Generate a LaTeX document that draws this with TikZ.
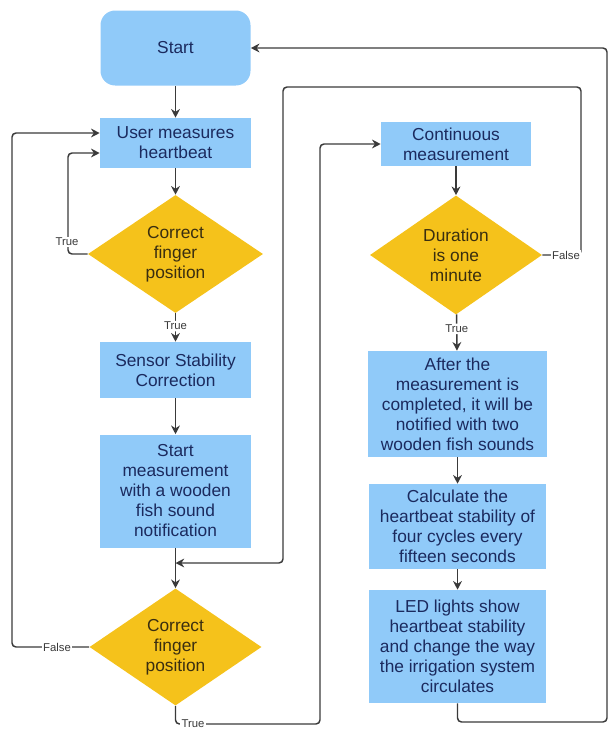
\documentclass[tikz,border=0pt]{standalone}
\usepackage{fontspec}
\setmainfont{Liberation Sans}
\usetikzlibrary{shapes.geometric,arrows.meta}
\definecolor{boxblue}{HTML}{90CAF9}
\definecolor{gold}{HTML}{F5C21B}
\definecolor{navy}{HTML}{1B2A5E}
\definecolor{dtext}{HTML}{3A2E10}
\definecolor{ln}{HTML}{3A3A3A}
\begin{document}
\begin{tikzpicture}[x=0.75pt,y=-0.75pt,
 box/.style={draw=none,fill=boxblue,text=navy,align=center,font=\fontsize{13}{15}\selectfont,inner sep=0pt},
 dia/.style={diamond,draw=none,fill=gold,text=dtext,align=center,font=\fontsize{13}{15}\selectfont,inner sep=0pt},
 conn/.style={draw=ln,line width=1.1pt,rounded corners=3pt},
 arr/.style={conn,-{Stealth[length=6.5pt,width=6.5pt]}},
 lab/.style={fill=white,text=ln,font=\fontsize{8.5}{10}\selectfont,inner sep=1pt}]
\useasboundingbox (0,0) rectangle (610,729);
% left column
\node[box,rounded corners=11pt,minimum width=150*0.75pt,minimum height=75*0.75pt] (start) at (175.5,48) {Start};
\node[box,minimum width=151*0.75pt,minimum height=50*0.75pt] (user) at (175.5,143) {User measures\\heartbeat};
\node[dia,minimum width=175*0.75pt,minimum height=118*0.75pt] (d1) at (175.5,254) {Correct\\finger\\position};
\node[box,minimum width=151*0.75pt,minimum height=56*0.75pt] (sensor) at (175.5,370) {Sensor Stability\\Correction};
\node[box,minimum width=151*0.75pt,minimum height=113*0.75pt] (meas) at (175.5,491) {Start\\measurement\\with a wooden\\fish sound\\notification};
\node[dia,minimum width=172*0.75pt,minimum height=117*0.75pt] (d2) at (175.5,647) {Correct\\finger\\position};
% right column
\node[box,minimum width=150*0.75pt,minimum height=44*0.75pt] (cont) at (456,144) {Continuous\\measurement};
\node[dia,minimum width=172*0.75pt,minimum height=119*0.75pt] (d3) at (456,255) {Duration\\is one\\minute};
\node[box,minimum width=179*0.75pt,minimum height=106*0.75pt] (after) at (457.5,404) {After the\\measurement is\\completed, it will be\\notified with two\\wooden fish sounds};
\node[box,minimum width=177*0.75pt,minimum height=85*0.75pt] (calc) at (457.5,526.5) {Calculate the\\heartbeat stability of\\four cycles every\\fifteen seconds};
\node[box,minimum width=177*0.75pt,minimum height=113*0.75pt] (led) at (457.5,646.5) {LED lights show\\heartbeat stability\\and change the way\\the irrigation system\\circulates};
% connectors
\draw[arr] (start) -- (user);
\draw[arr] (user) -- (d1);
\draw[arr] (d1) -- node[lab,pos=0.45] (t2) {True} (sensor);
\draw[arr] (sensor) -- (meas);
\draw[arr] (meas) -- (d2);
\draw[arr] (d1.west) -- (68,254) -- (68,153) -- (user.west |- 0,153);
\node[lab] (t1) at (67,242) {True};
\draw[arr] (d2.west) -- (12,647) -- (12,133) -- (user.west |- 0,133);
\node[lab] (f2) at (57,647) {False};
\draw[arr] (d2.south) -- (175.5,724) -- (320,724) -- (320,144) -- (cont.west);
\node[lab] (t3) at (193,724) {True};
\draw[arr] (cont) -- (d3);
\draw[arr] (d3) -- node[lab,pos=0.4] (t4) {True} (after);
\draw[arr] (after) -- (calc);
\draw[arr] (calc) -- (led);
\draw[arr] (d3.east) -- (581,255) -- (581,87) -- (283,87) -- (283,563) -- (meas.south |- 0,563);
\node[lab] (f3) at (566,255) {False};
\draw[arr] (led.south) -- (457.5,722) -- (607,722) -- (607,48) -- (start.east);
\end{tikzpicture}
\end{document}
